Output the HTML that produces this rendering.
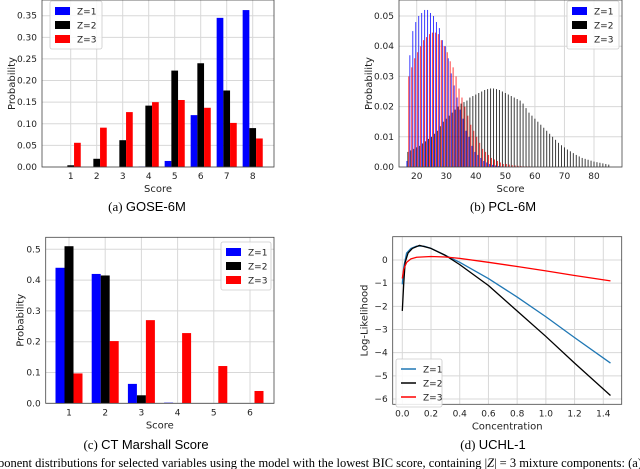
<!DOCTYPE html>
<html><head><meta charset="utf-8">
<style>
body{margin:0;background:#fff;}
svg{display:block;}
text{font-family:"DejaVu Sans","Liberation Sans",sans-serif;fill:#222;}
.cap{font-family:"Liberation Serif",serif;font-size:13px;fill:#000;}
</style></head>
<body>
<svg id="fig" width="640" height="469" viewBox="0 0 640 469" xmlns="http://www.w3.org/2000/svg">
<text class="cap" x="147" y="211" text-anchor="middle">(a) <tspan font-family="Liberation Sans">GOSE-6M</tspan></text>
<text class="cap" x="503" y="211" text-anchor="middle">(b) <tspan font-family="Liberation Sans">PCL-6M</tspan></text>
<text class="cap" x="146" y="449" text-anchor="middle">(c) <tspan font-family="Liberation Sans">CT Marshall Score</tspan></text>
<text class="cap" x="493" y="449" text-anchor="middle">(d) <tspan font-family="Liberation Sans">UCHL-1</tspan></text>
<text class="cap" x="-2" y="467" textLength="644" lengthAdjust="spacingAndGlyphs">ponent distributions for selected variables using the model with the lowest BIC score, containing |<tspan font-style="italic">Z</tspan>| = 3 mixture components: (a)</text>
</svg>
<script>
// ---- Panel A data (GOSE-6M)
const gosCats=[1,2,3,4,5,6,7,8];
const gosZ1=[0,0,0,0.001,0.014,0.12,0.345,0.363];
const gosZ2=[0.004,0.019,0.062,0.142,0.223,0.24,0.177,0.09];
const gosZ3=[0.056,0.091,0.127,0.15,0.155,0.137,0.102,0.066];
const gosYTicks=[0,0.05,0.10,0.15,0.20,0.25,0.30,0.35];
// ---- Panel B data (PCL-6M), scores 17..85
const pclStart=17;
const pclZ1=[0.002,0.037,0.045,0.048,0.050,0.051,0.052,0.052,0.051,0.050,0.048,0.046,0.042,0.040,0.036,0.031,0.027,0.023,0.019,0.016,0.012,0.010,0.007,0.005,0.004,0.003,0.002,0.0015,0.001,0.0007,0.0005,0.0003,0.0002,0.0001,0,0,0,0,0,0,0,0,0,0,0,0,0,0,0,0,0,0,0,0,0,0,0,0,0,0,0,0,0,0,0,0,0,0,0];
const pclZ2=[0.005,0.0055,0.006,0.0065,0.007,0.0078,0.0085,0.0093,0.010,0.011,0.012,0.0135,0.015,0.016,0.017,0.018,0.019,0.020,0.021,0.0215,0.022,0.023,0.0235,0.024,0.0245,0.025,0.0255,0.0258,0.026,0.026,0.0258,0.0255,0.025,0.0245,0.024,0.0235,0.023,0.0225,0.022,0.021,0.0195,0.018,0.017,0.016,0.015,0.014,0.013,0.012,0.011,0.010,0.009,0.008,0.0072,0.0065,0.0058,0.0052,0.0046,0.004,0.0035,0.003,0.0027,0.0024,0.0021,0.0018,0.0016,0.0014,0.0012,0.001,0.0008];
const pclZ3=[0.030,0.033,0.036,0.038,0.040,0.042,0.043,0.044,0.0445,0.0445,0.044,0.042,0.040,0.038,0.035,0.033,0.030,0.026,0.023,0.020,0.017,0.014,0.012,0.010,0.008,0.006,0.005,0.004,0.003,0.0025,0.002,0.0015,0.001,0.001,0.0008,0.0006,0.0005,0.0004,0.0003,0.0002,0.0002,0.0002,0,0,0,0,0,0,0,0,0,0,0,0,0,0,0,0,0,0,0,0,0,0,0,0,0,0,0];
const pclXTicks=[20,30,40,50,60,70,80];
const pclYTicks=[0,0.01,0.02,0.03,0.04,0.05];
// ---- Panel C data (CT Marshall)
const ctCats=[1,2,3,4,5,6];
const ctZ1=[0.44,0.42,0.063,0.002,0,0];
const ctZ2=[0.51,0.415,0.026,0,0,0];
const ctZ3=[0.097,0.202,0.27,0.228,0.121,0.04];
const ctYTicks=[0,0.1,0.2,0.3,0.4,0.5];
// ---- Panel D data (UCHL-1)
const uX1=[0,0.01,0.03,0.06,0.1,0.15,0.2,0.3,0.4,0.6,0.8,1.0,1.2,1.45];
const uY1=[-1.05,-0.3,0.3,0.5,0.6,0.6,0.5,0.2,-0.1,-0.8,-1.6,-2.45,-3.35,-4.45];
const uX2=[0,0.01,0.02,0.04,0.07,0.12,0.2,0.3,0.4,0.6,0.8,1.0,1.2,1.45];
const uY2=[-2.2,-1.0,-0.1,0.3,0.5,0.63,0.5,0.2,-0.2,-1.1,-2.2,-3.3,-4.45,-5.85];
const uX3=[0,0.01,0.03,0.06,0.1,0.2,0.3,0.4,0.6,0.8,1.0,1.2,1.45];
const uY3=[-0.8,-0.4,-0.1,0.05,0.12,0.15,0.13,0.07,-0.1,-0.28,-0.47,-0.67,-0.9];
const uXTicks=[0,0.2,0.4,0.6,0.8,1.0,1.2,1.4];
const uYTicks=[0,-1,-2,-3,-4,-5,-6];

const NS='http://www.w3.org/2000/svg';
const svg=document.getElementById('fig');
function mk(tag,attrs,parent){const e=document.createElementNS(NS,tag);for(const k in attrs)e.setAttribute(k,attrs[k]);(parent||svg).appendChild(e);return e;}
function lin(d0,d1,r0,r1){return v=>r0+(v-d0)*(r1-r0)/(d1-d0);}

function axesFrame(g,L,R,T,B,xs,xt,xfmt,ys,yt,yfmt,xlabel,ylabel,pre,yoff){
  for(const v of xt){const x=xs(v);
    const gl=mk('line',{x1:x,x2:x,y1:T,y2:B,stroke:'#d8d8d8','stroke-width':1},g);
    
    const t=mk('text',{x:x,y:B+12,'font-size':9,'text-anchor':'middle'},g);t.textContent=xfmt(v);
    }
  for(const v of yt){const y=ys(v);
    const gl=mk('line',{x1:L,x2:R,y1:y,y2:y,stroke:'#d8d8d8','stroke-width':1},g);
    
    const t=mk('text',{x:L-5,y:y+3,'font-size':9,'text-anchor':'end'},g);t.textContent=yfmt(v);
    }
  const xl=mk('text',{x:(L+R)/2,y:B+25,'font-size':10,'text-anchor':'middle'},g);xl.textContent=xlabel;
  
  const yl=mk('text',{x:0,y:0,'font-size':10,'text-anchor':'middle',transform:`translate(${L-yoff},${(T+B)/2}) rotate(-90)`},g);yl.textContent=ylabel;
  
}
function frame(g,L,R,T,B,pre){const f=mk('rect',{x:L,y:T,width:R-L,height:B-T,fill:'none',stroke:'#444','stroke-width':0.8},g);
  }
function legend(g,x,y,w,items,pre,isLine){
  const h=items.length*14+6;
  const bx=mk('rect',{x:x,y:y,width:w,height:h,fill:'#fff','fill-opacity':0.85,stroke:'#ccc','stroke-width':0.8,rx:2},g);
  
  items.forEach((it,i)=>{const yy=y+10+i*14;
    let s;
    if(isLine){s=mk('line',{x1:x+5,x2:x+20,y1:yy,y2:yy,stroke:it[1],'stroke-width':1.5},g);}
    else{s=mk('rect',{x:x+5,y:yy-4,width:15,height:8,fill:it[1]},g);}
    
    const t=mk('text',{x:x+27,y:yy+3.5,'font-size':9},g);t.textContent=it[0];
    });
}
const COLS=['#0000ff','#000000','#ff0000'];
const LEG=[['Z=1',COLS[0]],['Z=2',COLS[1]],['Z=3',COLS[2]]];

// Panel A
(function(){const g=mk('g',{});
  const L=42,R=274,T=0,B=167;
  const xs=lin(1,8,70.7,252.7), ys=lin(0,0.35,B,15.7);
  axesFrame(g,L,R,T,B,xs,gosCats,v=>v,ys,gosYTicks,v=>v.toFixed(2),'Score','Probability','gose-',27);
  const w=6.7;[gosZ1,gosZ2,gosZ3].forEach((ser,s)=>ser.forEach((v,i)=>{const x=xs(gosCats[i])+(s-1)*w-w/2;
    const r=mk('rect',{x:x,y:ys(v),width:w,height:B-ys(v),fill:COLS[s]},g);
    }));
  frame(g,L,R,T,B,'gose-');legend(g,50,1,52,LEG,'gose-',false);})();

// Panel B
(function(){const g=mk('g',{});
  const L=399,R=622,T=0,B=167;
  const xs=lin(20,80,416.7,594), ys=lin(0,0.05,B,16);
  axesFrame(g,L,R,T,B,xs,pclXTicks,v=>v,ys,pclYTicks,v=>v.toFixed(2),'Score','Probability','pcl-',27);
  const w=0.95;[pclZ2,pclZ1,pclZ3].forEach((ser,k)=>{const s=[1,0,2][k];ser.forEach((v,i)=>{if(v<=0)return;
    const x=xs(pclStart+i)+(s-1)*w-w/2;
    const r=mk('rect',{x:x,y:ys(v),width:w,height:B-ys(v),fill:COLS[s],'fill-opacity':0.8},g);
    });});
  frame(g,L,R,T,B,'pcl-');legend(g,567,1,52,LEG,'pcl-',false);})();

// Panel C
(function(){const g=mk('g',{});
  const L=45.7,R=274,T=237.3,B=403.3;
  const xs=lin(1,6,69,250), ys=lin(0,0.5,B,249.3);
  axesFrame(g,L,R,T,B,xs,ctCats,v=>v,ys,ctYTicks,v=>v.toFixed(1),'Score','Probability','ct-',22);
  const w=9;[ctZ1,ctZ2,ctZ3].forEach((ser,s)=>ser.forEach((v,i)=>{const x=xs(ctCats[i])+(s-1)*w-w/2;
    const r=mk('rect',{x:x,y:ys(v),width:w,height:B-ys(v),fill:COLS[s]},g);
    }));
  frame(g,L,R,T,B,'ct-');legend(g,221,242,50,LEG,'ct-',false);})();

// Panel D
(function(){const g=mk('g',{});
  const L=392.7,R=621.7,T=236.7,B=404.3;
  const xs=lin(0,1.4,402.3,603.3), ys=lin(0,-6,260,399);
  axesFrame(g,L,R,T,B,xs,uXTicks,v=>v.toFixed(1),ys,uYTicks,v=>v===0?'0':'\u2212'+Math.abs(v),'Concentration','Log-Likelihood','uchl-',25);
  const LC=['#1f77b4','#000000','#ff0000'];
  [[uX1,uY1],[uX2,uY2],[uX3,uY3]].forEach((p,s)=>{const d=p[0].map((x,i)=>(i?'L':'M')+xs(x).toFixed(2)+','+ys(p[1][i]).toFixed(2)).join('');
    const pa=mk('path',{d:d,fill:'none',stroke:LC[s],'stroke-width':1.3,'stroke-linejoin':'round'},g);
    });
  frame(g,L,R,T,B,'uchl-');legend(g,396,359,46,[['Z=1',LC[0]],['Z=2',LC[1]],['Z=3',LC[2]]],'uchl-',true);})();
</script>
</body></html>
